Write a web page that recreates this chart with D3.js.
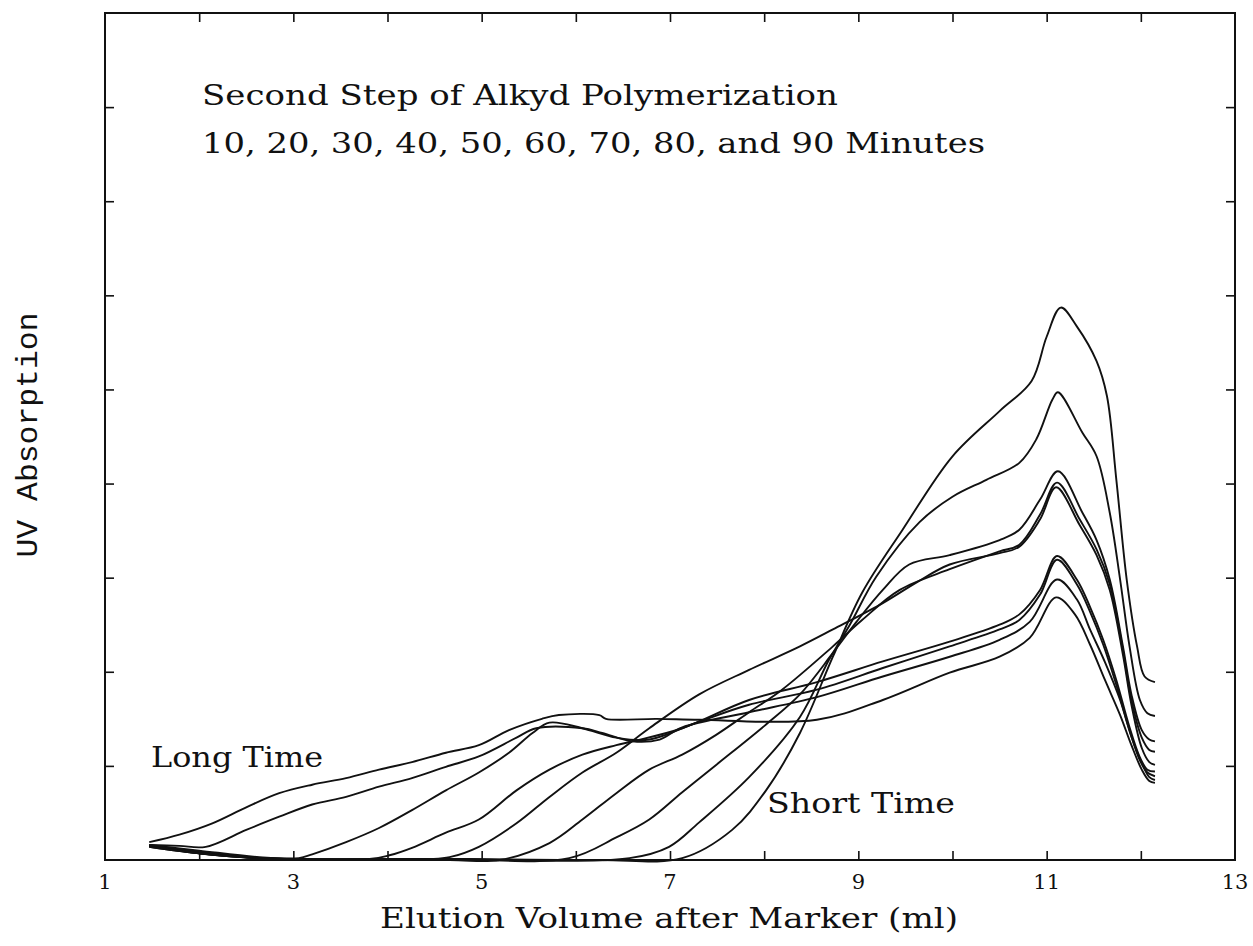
<!DOCTYPE html>
<html>
<head>
<meta charset="utf-8">
<script src="https://cdn.jsdelivr.net/npm/d3@7"></script>
<style>
  html, body { margin: 0; padding: 0; background: #fff; }
  svg { display: block; }
</style>
</head>
<body>
<svg id="chart" width="1253" height="946"></svg>
<script>
// ---- data (x = elution volume after marker, ml; y = UV absorption, arbitrary units) ----
const xDomain = [1, 13];
const yDomain = [0, 9];
const xLabeledTicks = [1, 3, 5, 7, 9, 11, 13];
const xMinorTicks = [2, 3, 4, 5, 6, 7, 8, 9, 10, 11, 12];
const yMinorTicks = [1, 2, 3, 4, 5, 6, 7, 8];

const min10 = [[1.47,0.16],[2.0,0.07],[2.64,0.02],[4.66,0.01],[6.25,0],[7.13,0.02],[7.66,0.32],[8.02,0.74],[8.38,1.35],[8.73,2.16],[9.04,2.84],[9.47,3.51],[10.0,4.29],[10.5,4.77],[10.84,5.09],[11.0,5.56],[11.15,5.87],[11.32,5.67],[11.53,5.30],[11.64,4.93],[11.74,4.04],[11.85,2.98],[11.96,2.27],[12.04,1.95],[12.15,1.89]];
const min20 = [[1.47,0.15],[2.0,0.09],[2.64,0.02],[4.66,0.01],[6.57,0.02],[6.99,0.14],[7.31,0.40],[7.84,0.88],[8.38,1.52],[8.69,2.13],[8.91,2.50],[9.19,3.01],[9.65,3.59],[10.0,3.86],[10.36,4.04],[10.71,4.22],[10.89,4.47],[11.06,4.89],[11.12,4.97],[11.38,4.54],[11.53,4.29],[11.67,3.69],[11.78,2.98],[11.88,2.27],[11.99,1.70],[12.07,1.56],[12.15,1.53]];
const min30 = [[1.47,0.14],[2.0,0.07],[2.64,0.02],[4.66,0.01],[5.93,0.02],[6.43,0.24],[6.78,0.43],[7.13,0.72],[7.49,1.01],[8.02,1.44],[8.38,1.76],[8.73,2.2],[8.98,2.53],[9.26,2.87],[9.54,3.14],[9.97,3.24],[10.5,3.4],[10.71,3.51],[10.93,3.83],[11.12,4.13],[11.38,3.69],[11.53,3.4],[11.67,2.98],[11.81,2.27],[11.9,1.76],[12.01,1.38],[12.09,1.28],[12.15,1.26]];
const min40 = [[1.47,0.15],[2.0,0.09],[2.64,0.02],[4.66,0],[5.19,0],[5.72,0.18],[6.07,0.43],[6.43,0.71],[6.78,0.96],[7.13,1.12],[7.49,1.33],[7.84,1.57],[8.19,1.81],[8.73,2.27],[9.04,2.55],[9.44,2.87],[9.97,3.09],[10.5,3.28],[10.71,3.35],[10.93,3.67],[11.11,4.01],[11.35,3.62],[11.53,3.30],[11.67,2.93],[11.81,2.23],[11.9,1.70],[12.01,1.30],[12.09,1.17],[12.15,1.15]];
const min50 = [[1.47,0.14],[2.0,0.07],[2.64,0.02],[4.44,0.01],[4.66,0.03],[4.97,0.14],[5.37,0.39],[5.72,0.67],[6.07,0.93],[6.43,1.14],[6.78,1.40],[7.31,1.76],[7.84,2.02],[8.38,2.27],[8.73,2.45],[9.26,2.73],[9.62,2.95],[9.97,3.14],[10.5,3.26],[10.71,3.33],[10.93,3.62],[11.1,3.96],[11.35,3.56],[11.53,3.24],[11.67,2.87],[11.81,2.18],[11.9,1.65],[12.01,1.19],[12.09,1.04],[12.15,1.01]];
const min60 = [[1.47,0.15],[2.0,0.07],[2.64,0.02],[3.81,0.01],[4.02,0.05],[4.26,0.13],[4.62,0.29],[4.97,0.43],[5.37,0.74],[5.72,0.96],[6.07,1.12],[6.43,1.22],[6.60,1.26],[7.13,1.40],[7.84,1.70],[8.56,1.89],[9.26,2.11],[9.97,2.32],[10.5,2.50],[10.71,2.61],[10.93,2.87],[11.11,3.23],[11.32,2.98],[11.46,2.69],[11.60,2.34],[11.74,1.91],[11.88,1.41],[11.99,1.09],[12.07,0.96],[12.15,0.94]];
const min70 = [[1.47,0.16],[2.0,0.10],[2.64,0.03],[3.06,0.02],[3.2,0.06],[3.56,0.19],[3.91,0.34],[4.26,0.53],[4.62,0.74],[4.97,0.93],[5.29,1.14],[5.54,1.35],[5.72,1.46],[6.07,1.40],[6.43,1.30],[6.78,1.28],[7.31,1.47],[7.84,1.65],[8.56,1.81],[9.26,2.04],[9.97,2.27],[10.5,2.45],[10.71,2.55],[10.93,2.82],[11.11,3.19],[11.32,2.93],[11.46,2.64],[11.6,2.29],[11.74,1.86],[11.88,1.38],[11.99,1.06],[12.07,0.93],[12.15,0.89]];
const min80 = [[1.47,0.16],[1.79,0.15],[2.07,0.14],[2.5,0.32],[2.85,0.46],[3.2,0.59],[3.56,0.67],[3.91,0.78],[4.26,0.87],[4.62,0.99],[4.97,1.10],[5.37,1.30],[5.58,1.40],[6.07,1.40],[6.28,1.35],[6.6,1.26],[6.89,1.28],[7.13,1.41],[7.84,1.57],[8.56,1.73],[9.26,1.95],[9.97,2.16],[10.5,2.34],[10.82,2.53],[11.11,2.98],[11.32,2.77],[11.46,2.45],[11.62,2.10],[11.78,1.70],[11.9,1.31],[12.01,1.03],[12.09,0.88],[12.15,0.85]];
const min90 = [[1.47,0.19],[1.79,0.27],[2.14,0.39],[2.5,0.56],[2.85,0.71],[3.2,0.80],[3.56,0.87],[3.91,0.96],[4.26,1.04],[4.62,1.14],[4.97,1.22],[5.29,1.38],[5.64,1.50],[5.82,1.54],[6.25,1.54],[6.32,1.50],[6.86,1.50],[7.31,1.49],[8.56,1.49],[9.26,1.70],[9.97,1.99],[10.5,2.16],[10.82,2.36],[11.1,2.79],[11.3,2.61],[11.46,2.29],[11.62,1.91],[11.78,1.54],[11.9,1.22],[12.01,0.96],[12.09,0.84],[12.15,0.82]];
const seriesList = [min10, min20, min30, min40, min50, min60, min70, min80, min90];

const titleLines = ["Second Step of Alkyd Polymerization", "10, 20, 30, 40, 50, 60, 70, 80, and 90 Minutes"];
const xAxisTitle = "Elution Volume after Marker (ml)";
const yAxisTitle = "UV Absorption";
const notes = ["Long Time", "Short Time"];

// ---- layout ----
const plot = { left: 105, right: 1235, top: 13, bottom: 860 };
const serif = "'DejaVu Serif', 'Liberation Serif', serif";
const mono = "'Liberation Mono', 'DejaVu Sans Mono', monospace";

const svg = d3.select("#chart");
svg.append("rect").attr("width", 1253).attr("height", 946).attr("fill", "#fff");

const x = d3.scaleLinear().domain(xDomain).range([plot.left, plot.right]);
const y = d3.scaleLinear().domain(yDomain).range([plot.bottom, plot.top]);

const g = svg.append("g");

// curves
const line = d3.line()
  .x(d => x(d[0]))
  .y(d => y(d[1]))
  .curve(d3.curveCatmullRom.alpha(0.5));

g.selectAll("path.curve")
  .data(seriesList)
  .join("path")
  .attr("class", "curve")
  .attr("d", line)
  .attr("fill", "none")
  .attr("stroke", "#111")
  .attr("stroke-width", 1.9)
  .attr("stroke-linejoin", "round");

// axes (ticks inward on all four sides)
const tickLen = 9;
const axB = d3.axisBottom(x).tickValues(xMinorTicks).tickSize(-tickLen).tickFormat("");
const axT = d3.axisTop(x).tickValues(xMinorTicks).tickSize(-tickLen).tickFormat("");
const axL = d3.axisLeft(y).tickValues(yMinorTicks).tickSize(-tickLen).tickFormat("");
const axR = d3.axisRight(y).tickValues(yMinorTicks).tickSize(-tickLen).tickFormat("");

function styleAxis(sel) {
  sel.select(".domain").attr("stroke", "#111").attr("stroke-width", 2);
  sel.selectAll(".tick line").attr("stroke", "#111").attr("stroke-width", 1.6);
}
svg.append("g").attr("transform", `translate(0,${plot.bottom})`).call(axB).call(styleAxis);
svg.append("g").attr("transform", `translate(0,${plot.top})`).call(axT).call(styleAxis);
svg.append("g").attr("transform", `translate(${plot.left},0)`).call(axL).call(styleAxis);
svg.append("g").attr("transform", `translate(${plot.right},0)`).call(axR).call(styleAxis);
svg.selectAll(".domain").attr("d", null);
svg.append("rect")
  .attr("x", plot.left).attr("y", plot.top)
  .attr("width", plot.right - plot.left).attr("height", plot.bottom - plot.top)
  .attr("fill", "none").attr("stroke", "#111").attr("stroke-width", 2);

// x tick labels
svg.append("g").selectAll("text")
  .data(xLabeledTicks)
  .join("text")
  .attr("x", d => x(d))
  .attr("y", 889)
  .attr("text-anchor", "middle")
  .attr("font-family", serif)
  .attr("font-size", 21)
  .attr("fill", "#111")
  .text(d => d);

// titles and annotations
function addText(str, xPos, yPos, size, len, family) {
  svg.append("text")
    .attr("x", xPos).attr("y", yPos)
    .attr("font-family", family || serif)
    .attr("font-size", size)
    .attr("fill", "#111")
    .attr("textLength", len)
    .attr("lengthAdjust", "spacingAndGlyphs")
    .text(str);
}
addText(titleLines[0], 202, 105, 27, 636);
addText(titleLines[1], 202, 153, 27, 783);
addText(notes[0], 151, 767, 27, 172);
addText(notes[1], 767, 813, 27, 188);
addText(xAxisTitle, 380, 928, 27, 578);

svg.append("text")
  .attr("transform", "translate(37,435) rotate(-90)")
  .attr("text-anchor", "middle")
  .attr("font-family", mono)
  .attr("font-size", 30)
  .attr("fill", "#111")
  .attr("textLength", 245)
  .attr("lengthAdjust", "spacingAndGlyphs")
  .text(yAxisTitle);
</script>
</body>
</html>
